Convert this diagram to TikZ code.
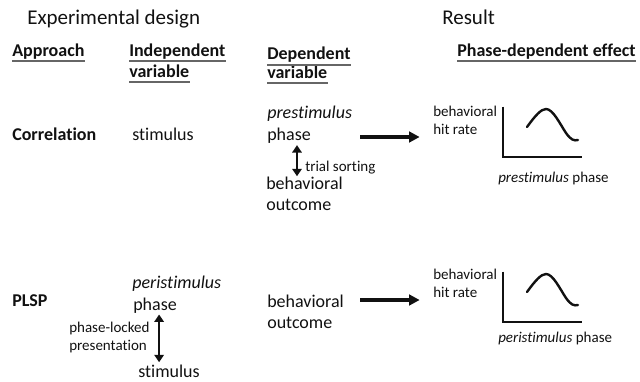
\documentclass[tikz,border=0pt]{standalone}
\usepackage{fontspec}
\setmainfont{Carlito}[Ligatures=NoCommon, RawFeature={-calt}]
\usetikzlibrary{arrows.meta}
\definecolor{ink}{HTML}{111111}
\definecolor{rulegray}{HTML}{666666}

\begin{document}
\begin{tikzpicture}[
  x=0.75pt,
  y=-0.75pt,
  txt/.style={inner sep=0pt, anchor=base west, text=ink},
  main/.style={txt, font=\fontsize{13.5}{16}\selectfont},
  small/.style={txt, font=\fontsize{11.25}{13.5}\selectfont},
  head/.style={txt, font=\fontsize{13.5}{16}\selectfont\bfseries},
  title/.style={txt, font=\fontsize{15.75}{19}\selectfont},
  uline/.style={draw=rulegray, line width=1.1pt},
  flow/.style={-{Triangle[length=8pt,width=8pt]}, line width=2.3pt, draw=ink},
  twoway/.style={{Triangle[length=5.5pt,width=7pt]}-{Triangle[length=5.5pt,width=7pt]}, line width=2pt, draw=ink},
  plotline/.style={line width=1.8pt, draw=ink}
]
  \useasboundingbox (0,0) rectangle (640,382);

  % titles and column heads
  \node[title] (design) at (27,24) {Experimental design};
  \node[title] (result) at (442,25) {Result};
  \node[head] (hdApp) at (12,56) {Approach};
  \node[head] (hdIndA) at (129,56) {Independent};
  \node[head] (hdIndB) at (129,77) {variable};
  \node[head] (hdDepA) at (267,60) {Dependent};
  \node[head] (hdDepB) at (267,78) {variable};
  \node[head] (hdEff) at (457,56) {Phase-dependent effect};
  \foreach \n in {hdApp,hdIndA,hdIndB,hdDepA,hdDepB,hdEff}
    \draw[uline] ([yshift=-3.8pt]\n.base west) -- ([yshift=-3.8pt]\n.base east);

  % correlation row
  \node[head] (corr) at (12,140) {Correlation};
  \node[main] (stimA) at (132,140) {stimulus};
  \node[main] (preA) at (267,118) {\textit{prestimulus}};
  \node[main] (phaseA) at (267,140) {phase};
  \node[small] (sortA) at (305,171) {trial sorting};
  \node[main] (behavA) at (266,189) {behavioral};
  \node[main] (outcA) at (266,210) {outcome};
  \draw[twoway, shorten <=1.5pt] ([xshift=-6pt]sortA.west |- phaseA.south)
    -- ([xshift=-6pt]sortA.west |- behavA.north);

  \coordinate (outA) at (360,137);
  \node[small] (hitA1) at (433,116) {behavioral};
  \node[small] (hitA2) at (433,134) {hit rate};
  \draw[flow] (outA) -- ([xshift=-10pt]hitA1.west |- outA);
  \node[small] (axA) at (498,182) {\textit{prestimulus} phase};

  % PLSP row
  \node[head] (plsp) at (12,306) {PLSP};
  \node[main] (periB) at (132,288) {\textit{peristimulus}};
  \node[main] (phaseB) at (133,310) {phase};
  \node[small] (lockA) at (69,332) {phase-locked};
  \node[small] (lockB) at (69,350) {presentation};
  \node[main] (stimB) at (138,377) {stimulus};
  \draw[twoway, shorten <=1pt, shorten >=1.5pt] ([xshift=7pt]lockA.east |- phaseB.south)
    -- ([xshift=7pt]lockA.east |- stimB.north);
  \node[main] (behavB) at (267,307) {behavioral};
  \node[main] (outcB) at (267,328) {outcome};

  \coordinate (outB) at (360,300);
  \node[small] (hitB1) at (433,279) {behavioral};
  \node[small] (hitB2) at (433,297) {hit rate};
  \draw[flow] (outB) -- ([xshift=-10pt]hitB1.west |- outB);
  \node[small] (axB) at (498,342) {\textit{peristimulus} phase};

  % the two sketched tuning curves
  \foreach \dy in {0,165} {
    \draw[plotline] (503,106.5+\dy) -- (503,157+\dy) -- (582,157+\dy);
    \draw[plotline, line cap=round] (527,127+\dy)
      .. controls (535,116+\dy) and (541,109+\dy) .. (546,109+\dy)
      .. controls (553,109+\dy) and (560,124+\dy) .. (566,133+\dy)
      .. controls (571,140+\dy) and (574,141+\dy) .. (578,140+\dy);
  }
\end{tikzpicture}
\end{document}
